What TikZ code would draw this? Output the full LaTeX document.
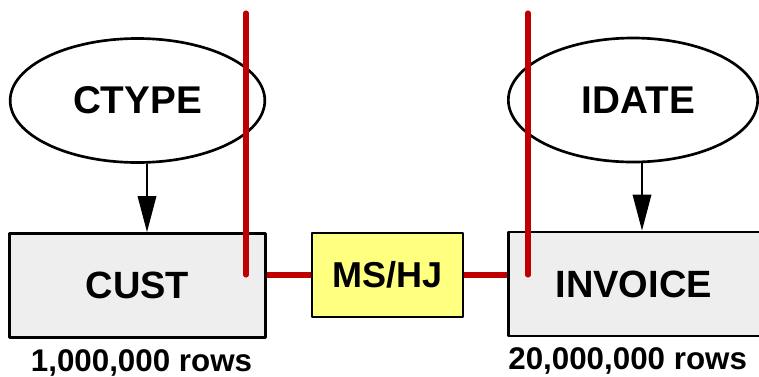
\documentclass[tikz,border=0pt]{standalone}
\usepackage{fontspec}
\setmainfont{Liberation Sans}
\usetikzlibrary{arrows.meta,positioning,shapes.geometric}
\definecolor{cutred}{HTML}{C00000}
\definecolor{tablegray}{HTML}{EEEEEE}
\definecolor{joinyellow}{HTML}{FFFF80}
\tikzset{
    every picture/.style={line cap=round,line join=round},
    tablebox/.style={draw=black,fill=tablegray,line width=2.2pt,
      minimum height=78pt,inner sep=2pt,
      font=\fontsize{28.5}{32}\selectfont\bfseries},
    prednode/.style={draw=black,ellipse,line width=2pt,
      minimum height=93pt,inner sep=0pt,
      font=\fontsize{29}{32}\selectfont\bfseries},
    joinbox/.style={draw=black,fill=joinyellow,line width=1.6pt,
      minimum width=113pt,minimum height=63pt,inner sep=2pt,
      font=\fontsize{27}{30}\selectfont\bfseries},
    rowlabel/.style={font=\fontsize{23.5}{26}\selectfont\bfseries,inner sep=1pt},
    filterarrow/.style={-{Triangle[length=27pt,width=14pt]},draw=black,
      line width=1pt},
    cutline/.style={draw=cutred,line width=3.8pt,line cap=round}
}
\begin{document}
\begin{tikzpicture}[x=0.75pt,y=-0.75pt]
  \useasboundingbox (0,0) rectangle (759,376);
  \node[tablebox,minimum width=192pt] (cust) at (137.5,285.5) {CUST};
  \node[tablebox,minimum width=196pt] (invoice) at (639,284) {INVOICE\hspace*{8pt}};
  \node[prednode,minimum width=191pt] (ctype) at (137.5,100.5) {CTYPE};
  \node[prednode,minimum width=187pt] (idate) at (633,100) {\hspace*{8pt}IDATE};
  \node[joinbox] (msjoin) at (387.5,275) {MS/HJ};
  \node[rowlabel,below=6.5pt of cust.south,xshift=3pt] (custrows) {1,000,000 rows};
  \node[rowlabel,below=6.5pt of invoice.south,xshift=-8.5pt] (invrows) {20,000,000 rows};
  \draw[filterarrow] (ctype.south -| 147,0) -- (cust.north -| 147,0);
  \draw[filterarrow] (idate.south -| 642,0) -- (invoice.north -| 642,0);
  \coordinate (cutatop) at (246,13);
  \coordinate (cutabot) at (246,275);
  \coordinate (cutbtop) at (528,13);
  \coordinate (cutbbot) at (528,275);
  \draw[cutline] (cutatop) -- (cutabot);
  \draw[cutline] (cutbtop) -- (cutbbot);
  \draw[cutline,line cap=butt] (msjoin.west) -- (msjoin.west -| cust.east);
  \draw[cutline,line cap=butt] (msjoin.east) -- (msjoin.east -| invoice.west);
\end{tikzpicture}
\end{document}
